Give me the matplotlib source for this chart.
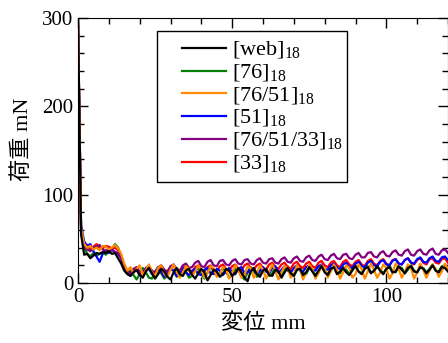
import matplotlib
matplotlib.use("Agg")
import matplotlib.pyplot as plt
from matplotlib.ticker import MultipleLocator
from matplotlib.patches import Rectangle
import numpy as np

plt.rcParams['font.family'] = ['Liberation Serif', 'Noto Sans CJK JP']
plt.rcParams['mathtext.fontset'] = 'custom'
plt.rcParams['mathtext.rm'] = 'Liberation Serif'

# displacement samples (mm)
x_mm = np.arange(0, 121, 1)

labels = ['[web]$_\\mathregular{18}$', '[76]$_\\mathregular{18}$', '[76/51]$_\\mathregular{18}$',
          '[51]$_\\mathregular{18}$', '[76/51/33]$_\\mathregular{18}$', '[33]$_\\mathregular{18}$']
colors = ['black', 'green', 'darkorange', 'blue', 'purple', 'red']

web = [300, 55, 32, 33, 28, 31, 34, 33, 35, 34, 36, 33, 34, 28, 22, 14, 10,
       8, 12, 15, 9, 6, 13, 17, 11, 5, 10,
       16, 13, 7, 4, 12, 17, 10, 8, 14, 16,
       9, 5, 11, 16, 12, 3, 9, 15, 13, 7,
       10, 16, 14, 8, 11, 17, 12, 6, 2, 13,
       17, 10, 7, 14, 16, 9, 8, 15, 13, 6,
       12, 17, 11, 8, 15, 16, 9, 12, 18, 13,
       8, 14, 19, 12, 9, 16, 18, 10, 13, 17,
       12, 9, 15, 19, 13, 10, 16, 18, 11, 14,
       19, 14, 10, 16, 18, 12, 13, 19, 15, 11,
       17, 19, 13, 12, 18, 16, 11, 15, 20, 14,
       12, 18, 17, 13]

s76 = [290, 60, 40, 33, 30, 34, 31, 33, 35, 32, 36, 38, 44, 40, 30, 20, 12,
       14, 9, 4, 10, 17, 12, 6, 5, 13, 18,
       11, 5, 9, 16, 14, 7, 10, 18, 13, 6,
       8, 15, 17, 10, 5, 12, 18, 14, 8, 11,
       17, 13, 6, 9, 16, 15, 8, 4, 12, 18,
       14, 7, 10, 17, 15, 8, 11, 18, 13, 9,
       14, 19, 12, 8, 15, 18, 11, 10, 17, 15,
       9, 13, 19, 14, 10, 16, 19, 12, 11, 18,
       15, 10, 14, 20, 13, 11, 17, 19, 12, 13,
       19, 15, 11, 16, 20, 13, 12, 18, 17, 11,
       15, 20, 14, 12, 18, 17, 12, 16, 21, 14,
       13, 19, 18, 14]

s76_51 = [295, 62, 44, 40, 42, 38, 40, 37, 42, 41, 38, 40, 43, 39, 33, 22, 14,
          18, 11, 16, 20, 9, 14, 21, 12, 8, 17,
          20, 10, 7, 15, 21, 13, 6, 12, 19, 16,
          8, 13, 20, 15, 6, 11, 19, 17, 7, 10,
          18, 16, 5, 12, 20, 14, 6, 9, 19, 17,
          6, 11, 20, 15, 5, 13, 21, 14, 4, 12,
          19, 17, 6, 10, 20, 15, 4, 12, 21, 16,
          5, 11, 20, 17, 6, 13, 21, 15, 5, 12,
          20, 17, 6, 10, 21, 16, 5, 13, 22, 15,
          6, 12, 21, 17, 5, 11, 22, 16, 6, 13,
          21, 17, 5, 12, 22, 15, 6, 14, 21, 16,
          7, 13, 22, 15]

s51 = [298, 65, 47, 42, 44, 36, 30, 24, 33, 37, 34, 38, 35, 33, 28, 17, 11,
       8, 13, 15, 9, 7, 14, 16, 10, 8, 15,
       13, 7, 10, 16, 14, 8, 11, 17, 12, 9,
       14, 16, 10, 9, 15, 17, 11, 10, 16, 14,
       9, 13, 17, 12, 10, 16, 18, 11, 12, 17,
       15, 10, 14, 18, 13, 11, 17, 19, 12, 15,
       19, 14, 12, 17, 20, 14, 13, 18, 20, 15,
       14, 19, 21, 16, 15, 20, 22, 17, 16, 21,
       23, 18, 17, 22, 24, 19, 18, 23, 25, 20,
       19, 24, 26, 21, 20, 25, 27, 22, 21, 26,
       28, 23, 22, 27, 29, 24, 23, 28, 30, 25,
       24, 29, 30, 26]

s76_51_33 = [292, 58, 42, 38, 36, 40, 41, 43, 38, 36, 39, 37, 35, 34, 28, 18, 12,
             12, 16, 18, 13, 11, 17, 19, 14, 12, 18,
             20, 15, 13, 19, 21, 16, 14, 20, 22, 17,
             18, 23, 25, 19, 18, 24, 26, 20, 19, 25,
             26, 21, 20, 25, 27, 22, 21, 26, 27, 22,
             21, 26, 28, 23, 22, 27, 28, 23, 22, 27,
             29, 24, 23, 28, 30, 25, 24, 29, 31, 26,
             25, 30, 32, 27, 26, 31, 33, 28, 27, 32,
             33, 28, 27, 32, 34, 29, 29, 34, 35, 30,
             29, 34, 36, 31, 30, 35, 37, 32, 31, 36,
             38, 32, 31, 36, 38, 33, 32, 37, 39, 33,
             32, 37, 38, 34]

s33 = [296, 60, 40, 43, 38, 41, 44, 40, 39, 42, 41, 39, 40, 37, 30, 19, 12,
       10, 15, 17, 12, 10, 16, 18, 13, 11, 16,
       18, 13, 11, 17, 19, 14, 12, 17, 19, 14,
       12, 18, 20, 15, 13, 18, 20, 15, 13, 19,
       21, 16, 14, 19, 21, 16, 14, 20, 22, 17,
       15, 20, 22, 17, 15, 21, 23, 18, 16, 21,
       23, 18, 16, 22, 24, 19, 17, 22, 24, 19,
       17, 23, 25, 20, 18, 23, 25, 20, 18, 24,
       26, 21, 19, 24, 26, 21, 19, 25, 27, 22,
       20, 25, 27, 22, 20, 26, 27, 22, 21, 26,
       28, 23, 21, 26, 28, 23, 21, 27, 28, 23,
       22, 27, 28, 23]

series = [web, s76, s76_51, s51, s76_51_33, s33]
draw_order = [1, 5, 3, 4, 2, 0]

W, H = 448, 343
fig = plt.figure(figsize=(W / 100, H / 100), dpi=100)
ax = fig.add_axes([78 / W, 1 - 283 / H, (W - 78) / W, (283 - 18) / H])

handles = [None] * len(series)
for i in draw_order:
    ln, = ax.plot(x_mm, series[i], color=colors[i], lw=1.6, label=labels[i])
    handles[i] = ln

ax.set_xlim(0, 120)
ax.set_ylim(0, 300)
ax.set_xticks([0, 50, 100])
ax.set_yticks([0, 100, 200, 300])
ax.xaxis.set_minor_locator(MultipleLocator(10))
ax.yaxis.set_minor_locator(MultipleLocator(20))
ax.tick_params(which='both', direction='in', top=True, right=True, labelsize=15, width=1)
ax.tick_params(which='major', length=7)
ax.tick_params(which='minor', length=4)

ax.set_xlabel('変位 mm', fontsize=16)
ax.set_ylabel('荷重 mN', fontsize=16)
ax.xaxis.set_label_coords(0.5, (283 - 313) / 265)
ax.yaxis.set_label_coords((33 - 78) / 370, (283 - 139) / 265)

leg = ax.legend(handles=handles, loc='upper left',
                bbox_to_anchor=((182 - 78) / 370, (283 - 40) / 265),
                frameon=False, fontsize=16, handlelength=2.0, handletextpad=0.25,
                labelspacing=0.07, borderpad=0, borderaxespad=0)
ax.add_patch(Rectangle(((157 - 78) / 370, (283 - 182) / 265), (347 - 157) / 370, (182 - 31) / 265,
                       transform=ax.transAxes, fill=False, edgecolor='black', lw=1, zorder=5,
                       clip_on=False))

fig.savefig('out.png', dpi=100)
